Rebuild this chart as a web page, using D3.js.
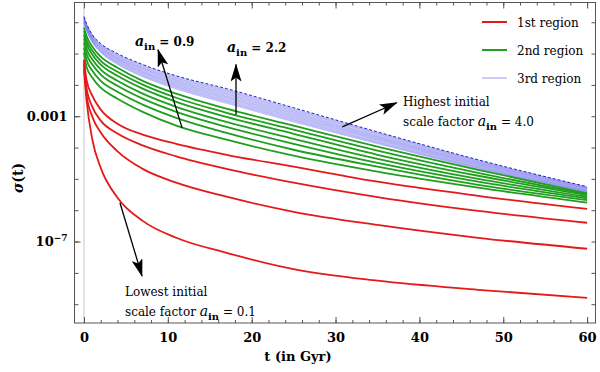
<!DOCTYPE html>
<html>
<head>
<meta charset="utf-8">
<script src="https://cdn.jsdelivr.net/npm/d3@7"></script>
<style>
  body { margin: 0; background: #fff; }
</style>
</head>
<body>
<div id="chart"></div>
<script>
// time samples (Gyr) shared by every curve
const tGyr = [0, 0.3, 1, 2, 4, 7, 11, 17, 25, 35, 47, 60];

// log10 sigma(t)
// 1st region (red), lowest a_in = 0.1 last
const region1 = [
  [-1.19, -1.83, -2.35, -2.79, -3.24, -3.59, -3.88, -4.23, -4.61, -5.09, -5.54, -5.96],
  [-1.26, -2.09, -2.70, -3.14, -3.55, -3.93, -4.28, -4.68, -5.12, -5.58, -6.02, -6.40],
  [-1.35, -2.31, -3.02, -3.52, -4.12, -4.68, -5.12, -5.57, -6.05, -6.47, -6.88, -7.23],
  [-1.51, -2.47, -3.75, -4.65, -5.60, -6.34, -6.88, -7.36, -7.88, -8.25, -8.54, -8.80]
];

// 2nd region (green), top curve first, a_in = 0.9 last
const region2 = [
  [-0.17, -0.43, -0.78, -1.10, -1.45, -1.87, -2.28, -2.76, -3.30, -3.97, -4.71, -5.46],
  [-0.27, -0.56, -0.91, -1.23, -1.58, -1.99, -2.41, -2.89, -3.43, -4.10, -4.81, -5.49],
  [-0.40, -0.68, -1.04, -1.35, -1.71, -2.12, -2.54, -3.02, -3.56, -4.23, -4.90, -5.52],
  [-0.52, -0.84, -1.19, -1.51, -1.87, -2.28, -2.70, -3.18, -3.72, -4.36, -5.00, -5.57],
  [-0.65, -1.00, -1.35, -1.67, -2.03, -2.44, -2.86, -3.34, -3.88, -4.49, -5.09, -5.62],
  [-0.81, -1.19, -1.55, -1.87, -2.22, -2.63, -3.05, -3.53, -4.07, -4.61, -5.19, -5.68],
  [-0.97, -1.42, -1.77, -2.09, -2.44, -2.86, -3.30, -3.75, -4.26, -4.77, -5.28, -5.76]
];

// 3rd region (blue), highest a_in = 4.0 first
const region3 = [
  [0.18, -0.04, -0.40, -0.68, -1.00, -1.35, -1.71, -2.12, -2.73, -3.50, -4.39, -5.25],
  [0.17, -0.05, -0.41, -0.70, -1.02, -1.37, -1.73, -2.15, -2.76, -3.52, -4.41, -5.26],
  [0.16, -0.07, -0.43, -0.71, -1.04, -1.39, -1.76, -2.17, -2.78, -3.54, -4.42, -5.27],
  [0.14, -0.08, -0.44, -0.73, -1.06, -1.42, -1.78, -2.20, -2.81, -3.56, -4.44, -5.28],
  [0.13, -0.09, -0.46, -0.74, -1.08, -1.44, -1.80, -2.22, -2.83, -3.58, -4.45, -5.29],
  [0.12, -0.10, -0.47, -0.76, -1.10, -1.46, -1.83, -2.25, -2.86, -3.61, -4.47, -5.30],
  [0.11, -0.12, -0.48, -0.78, -1.12, -1.48, -1.85, -2.28, -2.88, -3.63, -4.49, -5.31],
  [0.09, -0.13, -0.50, -0.79, -1.14, -1.50, -1.87, -2.30, -2.91, -3.65, -4.50, -5.32],
  [0.08, -0.14, -0.51, -0.81, -1.16, -1.52, -1.90, -2.33, -2.93, -3.67, -4.52, -5.33],
  [0.07, -0.16, -0.53, -0.82, -1.17, -1.55, -1.92, -2.36, -2.96, -3.69, -4.53, -5.35],
  [0.06, -0.17, -0.54, -0.84, -1.19, -1.57, -1.94, -2.38, -2.98, -3.71, -4.55, -5.36],
  [0.05, -0.18, -0.55, -0.86, -1.21, -1.59, -1.97, -2.41, -3.01, -3.73, -4.57, -5.37],
  [0.03, -0.19, -0.57, -0.87, -1.23, -1.61, -1.99, -2.43, -3.03, -3.75, -4.58, -5.38],
  [0.02, -0.21, -0.58, -0.89, -1.25, -1.63, -2.01, -2.46, -3.06, -3.77, -4.60, -5.39],
  [0.01, -0.22, -0.59, -0.91, -1.27, -1.65, -2.04, -2.49, -3.08, -3.80, -4.62, -5.40],
  [0.00, -0.23, -0.61, -0.92, -1.29, -1.68, -2.06, -2.51, -3.11, -3.82, -4.63, -5.41],
  [-0.02, -0.24, -0.62, -0.94, -1.31, -1.70, -2.08, -2.54, -3.13, -3.84, -4.65, -5.42],
  [-0.03, -0.26, -0.64, -0.95, -1.33, -1.72, -2.11, -2.56, -3.16, -3.86, -4.66, -5.43],
  [-0.04, -0.27, -0.65, -0.97, -1.35, -1.74, -2.13, -2.59, -3.18, -3.88, -4.68, -5.44]
];

const legendLabels = ["1st region", "2nd region", "3rd region"];
const xTicks = [0, 10, 20, 30, 40, 50, 60];
const xMinorTicks = d3.range(0, 61, 2);
const yDecades = [1, 1e-1, 1e-2, 1e-3, 1e-4, 1e-5, 1e-6, 1e-7, 1e-8, 1e-9];
const yLabelTicks = [1e-3, 1e-7];

// annotation anchors in data units (t, log10 sigma)
const arrows = [
  {from: [11.7, -3.37], to: [8.83, -0.88]},
  {from: [18.13, -2.95], to: [18.13, -1.35]},
  {from: [30.8, -3.34], to: [37.3, -2.57]},
  {from: [4.29, -5.76], to: [6.92, -8.10]}
];

const width = 600, height = 372;
const plot = {left: 74.5, right: 595.5, top: 2.5, bottom: 323};
const fontSerif = "'DejaVu Serif', 'Liberation Serif', serif";
const frameColor = "#555";
const red = "#e41a1a", green = "#1f9e1f", blueThin = "#8080f0", blueTop = "#2020b8";

const svg = d3.select('#chart')
  .append('svg')
  .attr('width', width)
  .attr('height', height)
  .style('font-family', fontSerif);

const x = d3.scaleLinear()
  .domain([-1.13, 61.0])
  .range([plot.left, plot.right]);

const y = d3.scaleLog()
  .domain([Math.pow(10, -9.6), Math.pow(10, 0.63)])
  .range([plot.bottom, plot.top]);

svg.append('defs').append('clipPath').attr('id', 'clip')
  .append('rect')
  .attr('x', plot.left).attr('y', plot.top)
  .attr('width', plot.right - plot.left).attr('height', plot.bottom - plot.top);

// arrowhead
svg.select('defs').append('marker')
  .attr('id', 'head')
  .attr('viewBox', '0 0 18 11')
  .attr('refX', 17).attr('refY', 5.5)
  .attr('markerWidth', 18).attr('markerHeight', 11)
  .attr('markerUnits', 'userSpaceOnUse')
  .attr('orient', 'auto')
  .append('path')
  .attr('d', 'M0,0 L18,5.5 L0,11 L4,5.5 Z')
  .attr('fill', '#000');

// gray axis line at t = 0
svg.append('line')
  .attr('x1', x(0)).attr('x2', x(0))
  .attr('y1', plot.top).attr('y2', plot.bottom)
  .attr('stroke', '#c8c8c8').attr('stroke-width', 1);

const line = d3.line()
  .x((d, i) => x(tGyr[i]))
  .y(d => y(Math.pow(10, d)))
  .curve(d3.curveMonotoneX);

const curves = svg.append('g').attr('clip-path', 'url(#clip)');

// 3rd region: thin blue band, top curve dashed
curves.selectAll('.blue')
  .data(region3.slice(1))
  .enter().append('path')
  .attr('class', 'blue')
  .attr('d', line)
  .attr('fill', 'none')
  .attr('stroke', blueThin)
  .attr('stroke-opacity', 0.75)
  .attr('stroke-width', 0.6);

curves.append('path')
  .attr('d', line(region3[0]))
  .attr('fill', 'none')
  .attr('stroke', blueTop)
  .attr('stroke-width', 1)
  .attr('stroke-dasharray', '3,2');

curves.selectAll('.green')
  .data(region2)
  .enter().append('path')
  .attr('class', 'green')
  .attr('d', line)
  .attr('fill', 'none')
  .attr('stroke', green)
  .attr('stroke-width', 1.8);

curves.selectAll('.red')
  .data(region1)
  .enter().append('path')
  .attr('class', 'red')
  .attr('d', line)
  .attr('fill', 'none')
  .attr('stroke', red)
  .attr('stroke-width', 1.8);

// frame
svg.append('rect')
  .attr('x', plot.left).attr('y', plot.top)
  .attr('width', plot.right - plot.left).attr('height', plot.bottom - plot.top)
  .attr('fill', 'none')
  .attr('stroke', frameColor)
  .attr('stroke-width', 1);

function tidy(g) {
  g.select('.domain').remove();
  g.selectAll('line').attr('stroke', frameColor);
  g.selectAll('text')
    .attr('fill', '#000')
    .style('font-family', fontSerif)
    .style('font-size', '13px')
    .style('font-weight', 'bold');
}

// x axes (bottom with labels, top mirrored)
svg.append('g')
  .attr('transform', `translate(0,${plot.bottom})`)
  .call(d3.axisBottom(x).tickValues(xMinorTicks).tickSizeInner(-3).tickSizeOuter(0).tickFormat(''))
  .call(tidy);
svg.append('g')
  .attr('transform', `translate(0,${plot.bottom})`)
  .call(d3.axisBottom(x).tickValues(xTicks).tickSizeInner(-6).tickSizeOuter(0).tickPadding(10).tickFormat(d3.format('d')))
  .call(tidy);
svg.append('g')
  .attr('transform', `translate(0,${plot.top})`)
  .call(d3.axisTop(x).tickValues(xMinorTicks).tickSizeInner(-3).tickSizeOuter(0).tickFormat(''))
  .call(tidy);
svg.append('g')
  .attr('transform', `translate(0,${plot.top})`)
  .call(d3.axisTop(x).tickValues(xTicks).tickSizeInner(-6).tickSizeOuter(0).tickFormat(''))
  .call(tidy);

// y axes
svg.append('g')
  .attr('transform', `translate(${plot.left},0)`)
  .call(d3.axisLeft(y).tickValues(yDecades).tickSizeInner(-4).tickSizeOuter(0).tickFormat(''))
  .call(tidy);
const yLab = svg.append('g')
  .attr('transform', `translate(${plot.left},0)`)
  .call(d3.axisLeft(y).tickValues(yLabelTicks).tickSizeInner(-6).tickSizeOuter(0).tickPadding(7)
    .tickFormat(d => d === 1e-3 ? '0.001' : '10'))
  .call(tidy);
yLab.selectAll('text')
  .filter(d => d === 1e-7)
  .append('tspan')
  .attr('dy', '-0.55em')
  .style('font-size', '9px')
  .text('\u22127');
svg.append('g')
  .attr('transform', `translate(${plot.right},0)`)
  .call(d3.axisRight(y).tickValues(yDecades).tickSizeInner(-4).tickSizeOuter(0).tickFormat(''))
  .call(tidy);

// axis titles
svg.append('text')
  .attr('x', (plot.left + plot.right) / 2 - 37)
  .attr('y', 361)
  .attr('text-anchor', 'middle')
  .style('font-size', '13px')
  .style('font-weight', 'bold')
  .text('t (in Gyr)');

const yTitle = svg.append('text')
  .attr('transform', 'translate(23,178) rotate(-90)')
  .attr('text-anchor', 'middle')
  .style('font-size', '14px')
  .style('font-weight', 'bold');
yTitle.append('tspan').style('font-style', 'italic').text('\u03c3');
yTitle.append('tspan').text('(t)');

// legend
const legendColors = [red, green, blueThin];
const legendWidths = [2, 2, 0.8];
const legend = svg.selectAll('.legend')
  .data(legendLabels)
  .enter().append('g')
  .attr('class', 'legend')
  .attr('transform', (d, i) => `translate(482, ${22 + i * 28})`);
legend.append('line')
  .attr('x1', 0).attr('x2', 25)
  .attr('stroke', (d, i) => legendColors[i])
  .attr('stroke-width', (d, i) => legendWidths[i]);
legend.append('text')
  .attr('x', 35).attr('y', 5)
  .style('font-size', '12px')
  .text(d => d);

// arrows
svg.selectAll('.arrow')
  .data(arrows)
  .enter().append('line')
  .attr('class', 'arrow')
  .attr('x1', d => x(d.from[0])).attr('y1', d => y(Math.pow(10, d.from[1])))
  .attr('x2', d => x(d.to[0])).attr('y2', d => y(Math.pow(10, d.to[1])))
  .attr('stroke', '#000')
  .attr('stroke-width', 1.3)
  .attr('marker-end', 'url(#head)');

// text with a subscripted a_in
function ainText(sel, prefix, value, bold) {
  const t = sel.style('font-size', '12px').style('font-weight', bold ? 'bold' : 'normal');
  if (prefix) t.append('tspan').text(prefix);
  t.append('tspan').style('font-style', 'italic').style('font-size', '14px').text('a');
  t.append('tspan').attr('dy', 4).style('font-size', '10px').style('font-weight', 'bold').text('in');
  t.append('tspan').attr('dy', -4).text(' = ' + value);
}

ainText(svg.append('text').attr('x', 135).attr('y', 46), '', '0.9', true);
ainText(svg.append('text').attr('x', 227).attr('y', 52), '', '2.2', true);

svg.append('text').attr('x', 403).attr('y', 106).style('font-size', '12px').text('Highest initial');
ainText(svg.append('text').attr('x', 403).attr('y', 126), 'scale factor ', '4.0', false);

svg.append('text').attr('x', 125).attr('y', 296).style('font-size', '12px').text('Lowest initial');
ainText(svg.append('text').attr('x', 125).attr('y', 316), 'scale factor ', '0.1', false);
</script>
</body>
</html>
